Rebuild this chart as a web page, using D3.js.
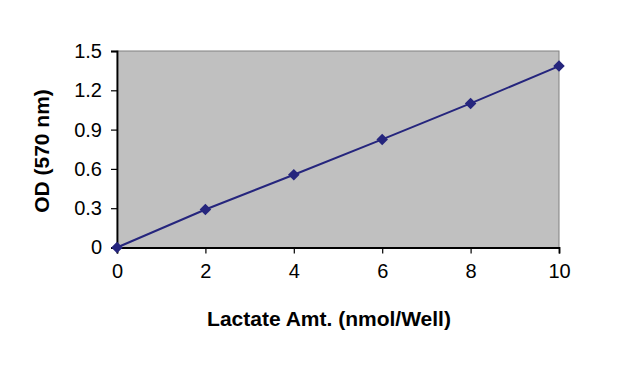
<!DOCTYPE html>
<html><head><meta charset="utf-8">
<script src="https://cdn.jsdelivr.net/npm/d3@7/dist/d3.min.js"></script>
<style>body{margin:0;background:#fff}svg{display:block}</style>
</head><body><svg id="c" width="640" height="367"></svg>
<script>
const xValues = [0, 2, 4, 6, 8, 10];
const odValues = [0, 0.29, 0.555, 0.825, 1.10, 1.385];
const xTicks = [0, 2, 4, 6, 8, 10];
const yTicks = [0, 0.3, 0.6, 0.9, 1.2, 1.5];
const xTitle = "Lactate Amt. (nmol/Well)";
const yTitle = "OD (570 nm)";

const svg = d3.select("#c");
const L = 117, R = 559, T = 51, B = 247.5;
const x = d3.scaleLinear().domain([0, 10]).range([L, R]);
const y = d3.scaleLinear().domain([0, 1.5]).range([B, T]);
const font = "'Liberation Sans', Arial, sans-serif";

svg.append("rect").attr("x", L).attr("y", T).attr("width", R - L).attr("height", B - T)
  .attr("fill", "#c0c0c0").attr("stroke", "#808080").attr("stroke-width", 1);

const xAxis = svg.append("g").attr("transform", `translate(0,${B})`)
  .call(d3.axisBottom(x).tickValues(xTicks).tickSize(6).tickPadding(10).tickFormat(d3.format("d")));
const yAxis = svg.append("g").attr("transform", `translate(${L},0)`)
  .call(d3.axisLeft(y).tickValues(yTicks).tickSize(6).tickPadding(9).tickFormat(d => d === 0 ? "0" : d3.format(".1f")(d)));
[xAxis, yAxis].forEach(g => {
  g.select(".domain").attr("stroke", "#000").attr("stroke-width", 1.8);
  g.selectAll(".tick line").attr("stroke", "#000").attr("stroke-width", 1.2);
  g.selectAll(".tick text").attr("fill", "#000").style("font-family", font).style("font-size", "20px");
});

const line = d3.line().x((d, i) => x(xValues[i])).y(d => y(d));
svg.append("path").datum(odValues).attr("d", line)
  .attr("fill", "none").attr("stroke", "#25257d").attr("stroke-width", 2);

svg.selectAll(".pt").data(odValues).enter().append("path")
  .attr("transform", (d, i) => `translate(${x(xValues[i])},${y(d)})`)
  .attr("d", d3.symbol().type(d3.symbolDiamond2).size(85))
  .attr("fill", "#25257d");

svg.append("text").attr("x", 329).attr("y", 326).attr("text-anchor", "middle")
  .style("font-family", font).style("font-size", "21px").style("font-weight", "bold").text(xTitle);
svg.append("text").attr("transform", "translate(49,151) rotate(-90)").attr("text-anchor", "middle")
  .style("font-family", font).style("font-size", "21px").style("font-weight", "bold").text(yTitle);
</script></body></html>
